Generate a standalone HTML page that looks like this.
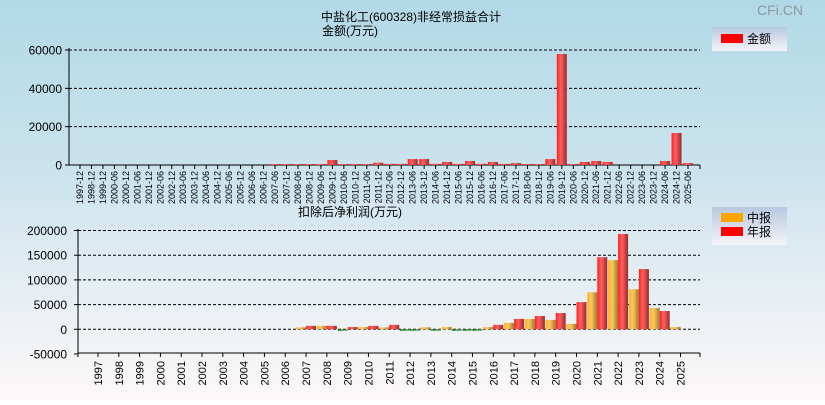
<!DOCTYPE html>
<html><head><meta charset="utf-8"><style>
body{margin:0;width:825px;height:400px;overflow:hidden;font-family:"Liberation Sans","Noto Sans CJK SC",sans-serif}
svg text{font-family:"Liberation Sans","Noto Sans CJK SC",sans-serif}
</style></head><body>
<svg id="c" width="825" height="400" xmlns="http://www.w3.org/2000/svg">
<defs>
<linearGradient id="bgTop" x1="0" y1="0" x2="0" y2="1"><stop offset="0" stop-color="#b2d9e7"/><stop offset="1" stop-color="#cfe5ee"/></linearGradient>
<linearGradient id="bgBot" x1="0" y1="0" x2="0" y2="1"><stop offset="0" stop-color="#d3e6ef"/><stop offset="1" stop-color="#fdf8f8"/></linearGradient>
<linearGradient id="gRed" x1="0" y1="0" x2="1" y2="0"><stop offset="0" stop-color="#ff2020"/><stop offset="0.4" stop-color="#ff6060"/><stop offset="1" stop-color="#9a2a2a"/></linearGradient>
<linearGradient id="gOr" x1="0" y1="0" x2="1" y2="0"><stop offset="0" stop-color="#ffb020"/><stop offset="0.4" stop-color="#ffc860"/><stop offset="1" stop-color="#9a7a30"/></linearGradient>
<linearGradient id="gGr" x1="0" y1="0" x2="1" y2="0"><stop offset="0" stop-color="#208020"/><stop offset="0.5" stop-color="#40a040"/><stop offset="1" stop-color="#7a9a7a"/></linearGradient>
<linearGradient id="gLeg" x1="0" y1="0" x2="0" y2="1"><stop offset="0" stop-color="#b8c8e0"/><stop offset="1" stop-color="#f4f4f8"/></linearGradient>
</defs>
<rect x="0" y="0" width="825" height="200" fill="url(#bgTop)"/>
<rect x="0" y="200" width="825" height="200" fill="url(#bgBot)"/>
<text x="780" y="15" font-size="14" fill="#8a9aa4" text-anchor="middle">CFi.CN</text>
<text x="411" y="21" font-size="12" text-anchor="middle">中盐化工(600328)非经常损益合计</text>
<text x="350" y="35" font-size="12" text-anchor="middle">金额(万元)</text>
<text x="350" y="216" font-size="12" text-anchor="middle">扣除后净利润(万元)</text>
<g>
<rect x="712" y="27" width="75" height="24" fill="url(#gLeg)"/>
<rect x="721" y="34" width="22" height="9" fill="#ff0000"/>
<text x="747" y="43" font-size="12">金额</text>
</g>
<g>
<rect x="712" y="207" width="75" height="38" fill="url(#gLeg)"/>
<rect x="721" y="213" width="22" height="9" fill="#ffa500"/>
<text x="747" y="222" font-size="12">中报</text>
<rect x="721" y="227" width="22" height="9" fill="#ff0000"/>
<text x="747" y="236" font-size="12">年报</text>
</g>
<g id="top"></g><g id="bot"></g>
</svg>
<script>
const topCats=["1997-12","1998-12","1999-12","2000-06","2000-12","2001-06","2001-12","2002-06","2002-12","2003-06","2003-12","2004-06","2004-12","2005-06","2005-12","2006-06","2006-12","2007-06","2007-12","2008-06","2008-12","2009-06","2009-12","2010-06","2010-12","2011-06","2011-12","2012-06","2012-12","2013-06","2013-12","2014-06","2014-12","2015-06","2015-12","2016-06","2016-12","2017-06","2017-12","2018-06","2018-12","2019-06","2019-12","2020-06","2020-12","2021-06","2021-12","2022-06","2022-12","2023-06","2023-12","2024-06","2024-12","2025-06"];
const topVals=[0,0,0,0,0,0,0,0,0,0,0,0,0,0,0,0,0,500,500,500,500,500,2600,500,500,500,1200,600,600,3100,3100,600,1600,600,2100,600,1600,600,1000,500,500,3100,57900,500,1600,2100,1600,0,0,0,0,2100,16700,1000];
const topTicks=[0,20000,40000,60000];
const years=["1997","1998","1999","2000","2001","2002","2003","2004","2005","2006","2007","2008","2009","2010","2011","2012","2013","2014","2015","2016","2017","2018","2019","2020","2021","2022","2023","2024","2025"];
const midVals=[0,0,0,0,0,0,0,0,0,0,4000,7000,-2000,4500,4000,-1500,4000,4500,-1000,4500,13000,21000,19000,11000,75000,140000,81000,43000,4500];
const annVals=[0,0,0,0,0,0,0,0,0,0,7000,7000,4500,7000,9000,-2000,-3000,-1000,-3000,9000,21000,27000,33000,55000,146000,193000,122000,37000,null];
const botTicks=[-50000,0,50000,100000,150000,200000];

const NS="http://www.w3.org/2000/svg";
function mk(p,t,a){const e=document.createElementNS(NS,t);for(const k in a)e.setAttribute(k,a[k]);p.appendChild(e);return e;}
// top chart
const T=document.getElementById('top');
const tx=i=>80+i*(688-80)/53, ty=v=>165-v*115/60000;
topTicks.forEach(v=>{
 if(v>0){const l=mk(T,'line',{x1:69,x2:700,y1:ty(v),y2:ty(v),stroke:'#000','stroke-dasharray':'3,2'});
 
 }
 mk(T,'line',{x1:65,x2:69,y1:ty(v),y2:ty(v),stroke:'#000'});
 const t=mk(T,'text',{x:62,y:ty(v)+4.5,'font-size':12,'text-anchor':'end'});t.textContent=v;
 
 
});
mk(T,'line',{x1:69,x2:69,y1:48,y2:165,stroke:'#000'});
mk(T,'line',{x1:69,x2:700,y1:165,y2:165,stroke:'#000'});
mk(T,'line',{x1:700,x2:700,y1:165,y2:169,stroke:'#000'});
topCats.forEach((c,i)=>{
 const x=tx(i);
 mk(T,'line',{x1:x,x2:x,y1:165,y2:169,stroke:'#000'});
 const t=mk(T,'text',{x:0,y:0,'font-size':9,'text-anchor':'end',transform:`translate(${x+3},${171}) rotate(-90)`});t.textContent=c;
 
 
 const v=topVals[i];
 if(v>0){const y=ty(v);const r=mk(T,'rect',{x:x-5,y:y,width:10,height:165-y,fill:'url(#gRed)'});
 
 }
});
// bottom chart
const B=document.getElementById('bot');
const bx=i=>98+i*(680.5-98)/28, by=v=>329.3-v*24.7/50000;
botTicks.forEach(v=>{
 if(v>=0){const l=mk(B,'line',{x1:78,x2:700,y1:by(v),y2:by(v),stroke:'#000','stroke-dasharray':'3,2'});
 
 }
 mk(B,'line',{x1:74,x2:78,y1:by(v),y2:by(v),stroke:'#000'});
 const t=mk(B,'text',{x:67,y:by(v)+4.5,'font-size':12,'text-anchor':'end'});t.textContent=v;
 
 
});
mk(B,'line',{x1:78,x2:78,y1:229,y2:353,stroke:'#000'});
mk(B,'line',{x1:78,x2:700,y1:353,y2:353,stroke:'#000'});
mk(B,'line',{x1:78,x2:78,y1:353,y2:357,stroke:'#000'});
mk(B,'line',{x1:700,x2:700,y1:353,y2:357,stroke:'#000'});
function bar(v,x,fill,name){
 if(v===null||v===0)return;
 const y0=by(0),y=by(v);
 const r=mk(B,'rect',{x:x,y:Math.min(y,y0),width:10,height:Math.max(1.5,Math.abs(y0-y)),fill:v<0?'url(#gGr)':fill});
 
 
}
years.forEach((yr,i)=>{
 const x=bx(i);
 mk(B,'line',{x1:x,x2:x,y1:353,y2:357,stroke:'#000'});
 const t=mk(B,'text',{x:0,y:0,'font-size':11,'text-anchor':'end',transform:`translate(${x+4},${361}) rotate(-90)`});t.textContent=yr;
 
 
 bar(midVals[i],x-10,'url(#gOr)','interim-bar-'+yr);
 bar(annVals[i],x,'url(#gRed)','annual-bar-'+yr);
});
</script>
</body></html>
